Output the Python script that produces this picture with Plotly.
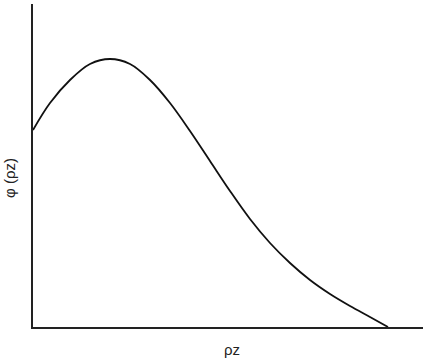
import plotly.graph_objects as go

# curve samples (arbitrary units)
rho_z = [0, 17, 37, 57, 77, 97, 117, 137, 157, 177, 197, 217, 237, 257, 277, 297, 317, 337, 355]
phi = [197, 224, 247, 263, 268, 263, 247, 224, 196, 166, 136, 108, 84, 64, 47, 33, 21, 10, 0]

x_title = "ρz"
y_title = "φ (ρz)"

fig = go.Figure()
fig.add_trace(go.Scatter(x=rho_z, y=phi, mode="lines",
                         line=dict(color="#111111", width=1.8, shape="spline", smoothing=1.0),
                         hoverinfo="skip"))

fig.update_layout(
    width=427, height=359,
    margin=dict(l=33, r=4, t=4, b=32),
    paper_bgcolor="white", plot_bgcolor="white",
    showlegend=False,
    font=dict(family="Liberation Sans, Arial, sans-serif", color="#222222", size=15),
    xaxis=dict(range=[0, 390], showgrid=False, zeroline=False, showticklabels=False,
               ticks="", showline=True, linecolor="#222222", linewidth=1.5, fixedrange=True),
    yaxis=dict(range=[0, 323], showgrid=False, zeroline=False, showticklabels=False,
               ticks="", showline=True, linecolor="#222222", linewidth=1.5, fixedrange=True),
    annotations=[
        dict(text=x_title, xref="paper", yref="paper", x=0.51, y=-0.071,
             showarrow=False, xanchor="center", yanchor="middle", font=dict(size=15)),
        dict(text=y_title, xref="paper", yref="paper", x=-0.062, y=0.461,
             showarrow=False, xanchor="center", yanchor="middle", textangle=-90,
             font=dict(size=15)),
    ],
)

fig.write_html("out.html")
